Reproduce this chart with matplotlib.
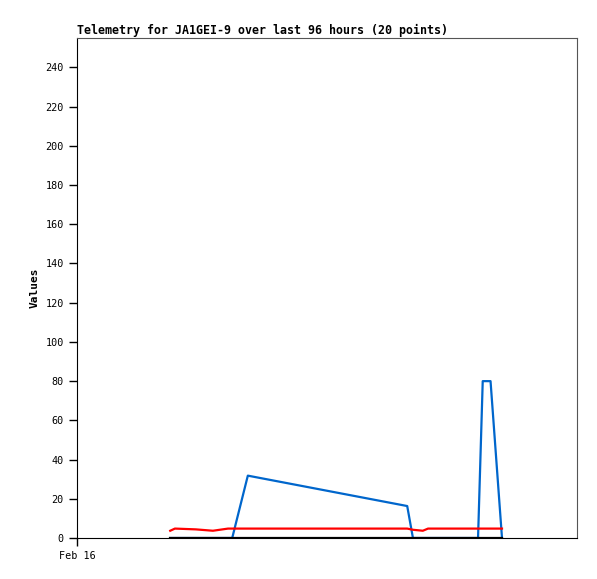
import matplotlib
matplotlib.use("Agg")
import matplotlib.pyplot as plt

# hours since Feb 16 00:00
hours = [17.9, 18.8, 22.8, 26.1, 29.0, 29.8, 32.8, 63.4, 64.5, 66.4, 67.4,
         77.0, 77.9, 79.4, 81.6]
temp = [3.7, 4.8, 4.4, 3.7, 4.8, 4.8, 4.8, 4.8, 4.2, 3.7, 4.8,
        4.8, 4.8, 4.8, 4.8]
speed = [0, 0, 0, 0, 0, 0, 31.8, 16.3, 0, 0, 0, 0, 80, 80, 0]
zero = [0] * len(hours)

title = "Telemetry for JA1GEI-9 over last 96 hours (20 points)"
mono = dict(family="DejaVu Sans Mono", size=7.3)

fig = plt.figure(figsize=(5.97, 5.79), dpi=100)
ax = fig.add_axes([77 / 597, 41 / 579, 500 / 597, 500 / 579])

ax.plot(hours, speed, color="#0066cc", lw=1.6, zorder=2)
ax.plot(hours, temp, color="#ff0000", lw=1.6, zorder=3)
ax.plot(hours, zero, color="#000000", lw=1.6, zorder=4)

ax.set_xlim(0, 96)
ax.set_ylim(0, 255)
ax.set_yticks(range(0, 241, 20))
ax.set_yticklabels([str(v) for v in range(0, 241, 20)], **mono)
ax.set_xticks([0])
ax.set_xticklabels(["Feb 16"], **mono)
ax.tick_params(direction="out", length=5.5, width=1, color="black", pad=4)

for side in ("top", "right"):
    ax.spines[side].set_color("#555555")
for side in ("left", "bottom"):
    ax.spines[side].set_color("black")

ax.set_ylabel("Values", fontweight="bold", family="DejaVu Sans Mono", size=8)
ax.set_title(title, loc="left", fontweight="bold", pad=3,
             family="DejaVu Sans Mono", size=8.35)

fig.savefig("out.png", dpi=100)
